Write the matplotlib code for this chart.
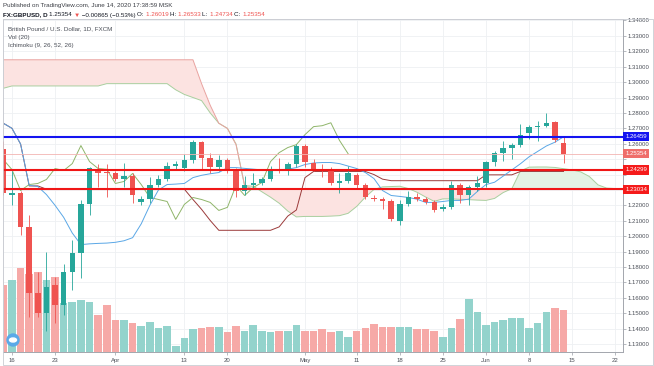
import matplotlib
matplotlib.use("Agg")
import matplotlib.pyplot as plt
import matplotlib.transforms as mtransforms
from matplotlib.patches import Circle, Ellipse, Rectangle
import numpy as np
import pandas as pd

plt.rcParams['font.family'] = ['Liberation Sans', 'DejaVu Sans']

# FX:GBPUSD daily bars, Fri 13 Mar 2020 .. Fri 12 Jun 2020 (bar -1 = 13 Mar, bar 0 = 16 Mar)
dates = pd.bdate_range("2020-03-13", "2020-06-12")

opens = [1.2568, 1.2268, 1.2277, 1.2057, 1.1630, 1.1500, 1.1682, 1.1552, 1.1766, 1.1889, 1.2206,
         1.2432, 1.2417, 1.2413, 1.2374, 1.2393, 1.2219, 1.2238, 1.2329, 1.2374, 1.2455,
         1.2445, 1.2497, 1.2614, 1.2510, 1.2452, 1.2497, 1.2432, 1.2296, 1.2335, 1.2342,
         1.2368, 1.2437, 1.2420, 1.2471, 1.2588, 1.2478, 1.2439, 1.2434, 1.2342, 1.2355,
         1.2400, 1.2335, 1.2245, 1.2238, 1.2225, 1.2096, 1.2206, 1.2251, 1.2238, 1.2219,
         1.2174, 1.2187, 1.2329, 1.2264, 1.2316, 1.2348, 1.2484, 1.2542, 1.2575, 1.2594,
         1.2672, 1.2711, 1.2717, 1.2743, 1.26019]
highs = [1.2620, 1.2426, 1.2296, 1.2135, 1.1766, 1.1900, 1.1733, 1.1818, 1.1973, 1.2232, 1.2452,
         1.2471, 1.2471, 1.2426, 1.2478, 1.2407, 1.2258, 1.2387, 1.2400, 1.2484, 1.2491,
         1.2536, 1.2627, 1.2620, 1.2542, 1.2529, 1.2510, 1.2445, 1.2393, 1.2413, 1.2387,
         1.2458, 1.2510, 1.2484, 1.2601, 1.2601, 1.2504, 1.2471, 1.2452, 1.2413, 1.2458,
         1.2413, 1.2348, 1.2264, 1.2251, 1.2238, 1.2232, 1.2296, 1.2277, 1.2251, 1.2232,
         1.2206, 1.2355, 1.2348, 1.2335, 1.2393, 1.2491, 1.2555, 1.2620, 1.2607, 1.2730,
         1.2724, 1.2749, 1.2801, 1.2749, 1.26533]
lows = [1.2264, 1.2199, 1.2005, 1.1474, 1.1474, 1.1384, 1.1436, 1.1487, 1.1649, 1.1727, 1.2135,
        1.2316, 1.2251, 1.2355, 1.2316, 1.2212, 1.2199, 1.2212, 1.2316, 1.2361, 1.2439,
        1.2426, 1.2478, 1.2439, 1.2413, 1.2426, 1.2413, 1.2251, 1.2264, 1.2309, 1.2329,
        1.2355, 1.2413, 1.2400, 1.2452, 1.2452, 1.2426, 1.2387, 1.2329, 1.2277, 1.2348,
        1.2309, 1.2238, 1.2225, 1.2174, 1.2096, 1.2070, 1.2193, 1.2225, 1.2206, 1.2154,
        1.2161, 1.2174, 1.2212, 1.2199, 1.2296, 1.2316, 1.2458, 1.2491, 1.2504, 1.2581,
        1.2633, 1.2620, 1.2711, 1.2614, 1.24734]
closes = [1.2283, 1.2277, 1.2057, 1.1630, 1.1500, 1.1669, 1.1552, 1.1766, 1.1889, 1.2206, 1.2445,
          1.2413, 1.2408, 1.2374, 1.2393, 1.2264, 1.2238, 1.2329, 1.2374, 1.2458, 1.2471,
          1.2497, 1.2614, 1.2510, 1.2452, 1.2497, 1.2432, 1.2296, 1.2335, 1.2342, 1.2368,
          1.2439, 1.2426, 1.2471, 1.2588, 1.2484, 1.2439, 1.2434, 1.2342, 1.2355, 1.2407,
          1.2335, 1.2251, 1.2238, 1.2225, 1.2109, 1.2206, 1.2251, 1.2238, 1.2219, 1.2167,
          1.2187, 1.2329, 1.2264, 1.2316, 1.2348, 1.2484, 1.2542, 1.2575, 1.2594, 1.2659,
          1.2711, 1.2717, 1.2736, 1.26219, 1.25354]
volume = [67, 72, 84, 78, 80, 72, 75, 49, 50, 52, 50,
          37, 47, 32, 32, 29, 26, 30, 24, 26, 6,
          14, 23, 24, 25, 25, 20, 26, 21, 27, 21,
          20, 21, 21, 27, 21, 21, 23, 20, 21, 15,
          21, 24, 28, 25, 25, 25, 25, 23, 23, 21,
          15, 24, 33, 53, 40, 27, 30, 32, 34, 34,
          24, 29, 40, 44, 42]

# Ichimoku (9, 26, 52, 26) lines, one value per bar
tenkan = [1.2733, 1.2700, 1.2598, 1.2330, 1.2322, 1.2270, 1.2200, 1.2122, 1.2020, 1.1945, 1.1950,
          1.1953, 1.1955, 1.1960, 1.1970, 1.1990, 1.2080, 1.2200, 1.2300, 1.2335, 1.2338,
          1.2342, 1.2380, 1.2395, 1.2405, 1.2413, 1.2445, 1.2445, 1.2440, 1.2435, 1.2430,
          1.2426, 1.2430, 1.2435, 1.2445, 1.2465, 1.2475, 1.2478, 1.2478, 1.2471, 1.2455,
          1.2439, 1.2413, 1.2374, 1.2296, 1.2264, 1.2258, 1.2251, 1.2240, 1.2219, 1.2219,
          1.2225, 1.2232, 1.2232, 1.2240, 1.2290, 1.2335, 1.2350, 1.2390, 1.2430, 1.2470,
          1.2515, 1.2550, 1.2585, 1.2610, 1.2645]
kijun = [1.2733, 1.2700, 1.2598, 1.2326, 1.2326, 1.2305, 1.2305, 1.2305, 1.2305, 1.2305, 1.2305,
         1.2305, 1.2305, 1.2305, 1.2305, 1.2305, 1.2305, 1.2305, 1.2305, 1.2305, 1.2305,
         1.2305, 1.2238, 1.2174, 1.2102, 1.2038, 1.2038, 1.2038, 1.2038, 1.2038, 1.2038,
         1.2038, 1.2060, 1.2130, 1.2170, 1.2380, 1.2420, 1.2420, 1.2420, 1.2420, 1.2420,
         1.2420, 1.2420, 1.2400, 1.2370, 1.2360, 1.2360, 1.2360, 1.2360, 1.2360, 1.2360,
         1.2360, 1.2360, 1.2360, 1.2360, 1.2360, 1.2398, 1.2398, 1.2398, 1.2398, 1.2420,
         1.2420, 1.2420, 1.2420, 1.2420, 1.2420]
# leading spans, bars -1 .. 71 (drawn 25 bars ahead)
span_a = [1.2960, 1.2975, 1.2975, 1.2975, 1.2975, 1.2975, 1.2975, 1.2975, 1.2975, 1.2975, 1.2975,
          1.2975, 1.2990, 1.2990, 1.2990, 1.2990, 1.2990, 1.2990, 1.2990, 1.2990, 1.2950,
          1.2920, 1.2900, 1.2880, 1.2800,
          1.2733, 1.2700, 1.2598, 1.2328, 1.2324, 1.2288, 1.2253, 1.2214, 1.2163, 1.2125,
          1.2128, 1.2128, 1.2128, 1.2130, 1.2133, 1.2148, 1.2193, 1.2253, 1.2303, 1.2320,
          1.2322, 1.2324, 1.2309, 1.2285, 1.2254, 1.2226, 1.2242, 1.2242, 1.2239, 1.2237,
          1.2234, 1.2232, 1.2245, 1.2283, 1.2308, 1.2423, 1.2448, 1.2449, 1.2449, 1.2446,
          1.2438, 1.2430, 1.2417, 1.2387, 1.2333, 1.2312, 1.2309, 1.2306]
span_b = [1.3145, 1.3145, 1.3145, 1.3145, 1.3145, 1.3145, 1.3145, 1.3145, 1.3145, 1.3145, 1.3145,
          1.3145, 1.3145, 1.3145, 1.3145, 1.3145, 1.3145, 1.3145, 1.3145, 1.3145, 1.3145,
          1.3145, 1.3145, 1.2990, 1.2850, 1.2733, 1.2699, 1.2594, 1.2326,
          1.2305, 1.2305, 1.2305, 1.2305, 1.2305, 1.2305, 1.2305, 1.2305, 1.2305, 1.2305,
          1.2305, 1.2305, 1.2305, 1.2305, 1.2305, 1.2305, 1.2305, 1.2305, 1.2305, 1.2305,
          1.2305, 1.2305, 1.2305, 1.2305, 1.2305, 1.2305, 1.2305, 1.2305, 1.2305, 1.2305,
          1.2305, 1.2305, 1.2305, 1.2305, 1.2305, 1.2305, 1.2305, 1.2305, 1.2305, 1.2305,
          1.2305, 1.2305, 1.2305, 1.2305]

# drawn levels
level_blue = 1.26459
levels_red = [1.24299, 1.23034]
last_price = 1.25354

tick_days = ["2020-03-16", "2020-03-23", "2020-04-01", "2020-04-13", "2020-04-20", "2020-05-01",
             "2020-05-11", "2020-05-18", "2020-05-25", "2020-06-01", "2020-06-08", "2020-06-15",
             "2020-06-22"]
tick_names = ["16", "23", "Apr", "13", "20", "May", "11", "18", "25", "Jun", "8", "15", "22"]
price_ticks = np.round(np.arange(1.13, 1.3401, 0.01), 2)

# ---------------------------------------------------------------
W, H = 654, 366
fig = plt.figure(figsize=(W / 100, H / 100), dpi=100, facecolor="white")

def px(x0, y0, x1, y1):
    return [x0 / W, 1 - y1 / H, (x1 - x0) / W, (y1 - y0) / H]

ax = fig.add_axes(px(3, 19, 623, 352))
ax.set_facecolor("white")

o = np.array(opens); h = np.array(highs); l = np.array(lows); c = np.array(closes)
x = np.arange(len(dates)) - 1
up = c >= o
GREEN, RED = "#26a69a", "#ef5350"
VGREEN, VRED = "#93d3cc", "#f6a9a7"

all_days = pd.bdate_range("2020-03-13", "2020-06-30")
tick_pos = [all_days.get_loc(pd.Timestamp(d)) - 1 for d in tick_days]

ax.set_xlim(-1.04, 70.9)
ax.set_ylim(1.12479, 1.34097)

# grid
for p in price_ticks:
    ax.axhline(p, color="#eef0f3", lw=0.6, zorder=0)
for t in tick_pos:
    ax.axvline(t, color="#eef0f3", lw=0.6, zorder=0)

# volume (bottom pane, same axes, heights as fraction of pane)
vol = np.array(volume)
ax.bar(x, vol / 334.0, width=0.88, bottom=0, color=np.where(up, VGREEN, VRED),
       transform=ax.get_xaxis_transform(), zorder=1, linewidth=0)

# cloud
xs = np.arange(len(span_a)) - 1
sa = np.array(span_a); sb = np.array(span_b)
ax.fill_between(xs, sa, sb, where=sa >= sb, interpolate=True, color="#e4f2e4", lw=0, zorder=1.5)
ax.fill_between(xs, sa, sb, where=sa < sb, interpolate=True, color="#fce3e1", lw=0, zorder=1.5)
ax.plot(xs, sa, color="#a9cf9f", lw=0.7, zorder=2)
ax.plot(xs, sb, color="#e9a3a0", lw=0.7, zorder=2)

# conversion, base, lagging
ax.plot(x, tenkan, color="#5aa7e6", lw=0.7, zorder=2.2)
ax.plot(x, kijun, color="#9b3a3a", lw=0.7, zorder=2.1)
ax.plot(x - 25, c, color="#8fb56a", lw=0.7, zorder=2.1)

# candles
ax.vlines(x, l, h, colors=np.where(up, GREEN, RED), lw=0.6, zorder=3)
body = np.maximum(np.abs(c - o), 0.00035)
ax.bar(x, body, width=0.64, bottom=np.minimum(o, c), color=np.where(up, GREEN, RED),
       linewidth=0, zorder=3.1)

# levels
ax.axhline(last_price, color="#f3b4b2", lw=0.6, zorder=3.3)
ax.axhline(level_blue, color="#1414f0", lw=1.5, zorder=3.5)
for lv in levels_red:
    ax.axhline(lv, color="#f01616", lw=1.5, zorder=3.5)

# axes look
for s in ["top", "left"]:
    ax.spines[s].set_color("#d6d8dc")
    ax.spines[s].set_linewidth(0.6)
for s in ["right", "bottom"]:
    ax.spines[s].set_color("#a3a6ad")
    ax.spines[s].set_linewidth(0.7)
ax.yaxis.tick_right()
ax.set_yticks(price_ticks)
badges = [level_blue, last_price] + levels_red
# the price scale hides labels that sit under a badge
ax.set_yticklabels(["" if min(abs(p - b) for b in badges) < 0.0045 else f"{p:.5f}"
                    for p in price_ticks])
ax.tick_params(axis="y", length=2, width=0.5, color="#9a9ea6", labelsize=4.3,
               labelcolor="#4a4e57", pad=1.5)
ax.set_xticks(tick_pos)
ax.set_xticklabels(tick_names)
ax.tick_params(axis="x", length=2, width=0.5, color="#9a9ea6", labelsize=4.3,
               labelcolor="#4a4e57", pad=2)

# price axis badges
btrans = mtransforms.blended_transform_factory(ax.transAxes, ax.transData)
for val, bg in [(level_blue, "#1414f0"), (last_price, "#ef6e6b"),
                (levels_red[0], "#f51a1a"), (levels_red[1], "#f51a1a")]:
    ax.text(1.004, val, f"{val:.5f}", transform=btrans, ha="left", va="center",
            fontsize=4.3, color="white", zorder=10, clip_on=False,
            bbox=dict(boxstyle="square,pad=0.35", fc=bg, ec="none"))

# header lines
fig.text(3 / W, 1 - 5 / H, "Published on TradingView.com, June 14, 2020 17:38:59 MSK",
         fontsize=4.5, color="#3a3d44", va="center", ha="left")

renderer = fig.canvas.get_renderer()
pieces = [("FX:GBPUSD, D ", "#131722", "bold"), ("1.25354 ", "#131722", "normal"),
          ("\u25bc", "#ef5350", "normal"), (" \u22120.00865 (\u22120.53%) ", "#131722", "normal"),
          ("O: ", "#131722", "normal"), ("1.26019 ", "#ef5350", "normal"),
          ("H: ", "#131722", "normal"), ("1.26533 ", "#ef5350", "normal"),
          ("L: ", "#131722", "normal"), ("1.24734 ", "#ef5350", "normal"),
          ("C: ", "#131722", "normal"), ("1.25354", "#ef5350", "normal")]
xp = 3.0
for s, col, wt in pieces:
    t = fig.text(xp / W, 1 - 15 / H, s, fontsize=4.5, color=col, fontweight=wt,
                 va="center", ha="left")
    xp += t.get_window_extent(renderer).width

for yy, s in [(29, "British Pound / U.S. Dollar, 1D, FXCM"), (38, "Vol (20)"),
              (46, "Ichimoku (9, 26, 52, 26)")]:
    fig.text(8 / W, 1 - yy / H, s, fontsize=4.5, color="#4a4e57", va="center", ha="left")

# outer frame of the chart box
fig.add_artist(Rectangle((3 / W, 1 / H), 650 / W, (H - 19 - 1) / H, transform=fig.transFigure,
                         fill=False, ec="#c9ccd2", lw=0.6))

# small logo bottom-left
idt = mtransforms.IdentityTransform()
fig.add_artist(Circle((13, H - 340), 6, transform=idt, color="#5ba9e8", zorder=20))
fig.add_artist(Ellipse((13, H - 340), 7, 4, transform=idt, color="white", zorder=21))

fig.savefig("out.png", dpi=100, facecolor="white")
